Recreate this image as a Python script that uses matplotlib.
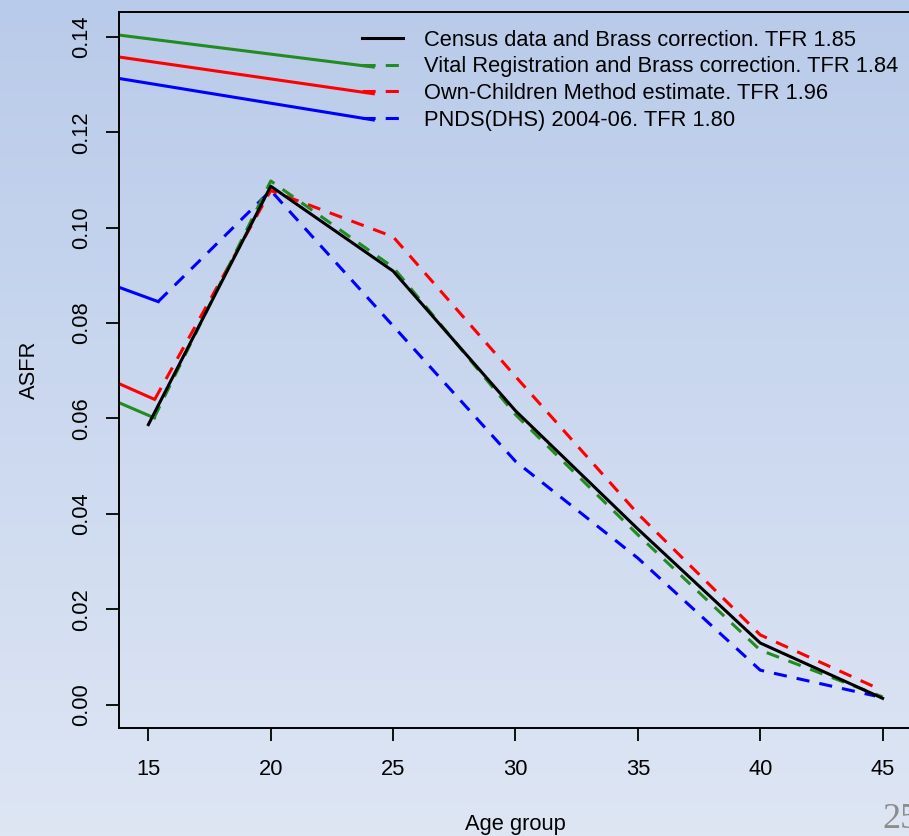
import numpy as np
import matplotlib.pyplot as plt
from matplotlib.lines import Line2D

# Age-specific fertility rates
ages = [15, 20, 25, 30, 35, 40, 45]
asfr_census = [0.0587, 0.1087, 0.0909, 0.0616, 0.0368, 0.0129, 0.0013]

ages_vital = [15.23, 20, 25, 30, 35, 40, 45]
asfr_vital = [0.0601, 0.1098, 0.0917, 0.0608, 0.0356, 0.0114, 0.0016]

ages_own = [15.26, 20, 25, 30, 35, 40, 44.8]
asfr_own = [0.0640, 0.1078, 0.0981, 0.0688, 0.0400, 0.0146, 0.0034]

ages_pnds = [15.4, 20, 25, 30, 35, 40, 44.7]
asfr_pnds = [0.0845, 0.1078, 0.0794, 0.0510, 0.0307, 0.0072, 0.0018]

# stray solid strokes that appear on the original slide
stub_x_low = [13.8, 15.25]
stub_vital_low = [0.0633, 0.0601]
stub_own_low = [0.0673, 0.0640]
stub_pnds_x_low = [13.8, 15.4]
stub_pnds_low = [0.0875, 0.0845]
stub_x_top = [13.8, 24.19]
stub_vital_top = [0.1404, 0.1337]
stub_own_top = [0.1358, 0.1281]
stub_pnds_top = [0.1313, 0.1226]

labels = ['Census data and Brass correction. TFR 1.85',
          'Vital Registration and Brass correction. TFR 1.84',
          'Own-Children Method estimate. TFR 1.96',
          'PNDS(DHS) 2004-06. TFR 1.80']
colors = ['black', '#228B22', '#FF0000', '#0000FF']

plt.rcParams.update({
    'font.family': ['Liberation Sans', 'DejaVu Sans'],
    'font.size': 15.75,
})

fig = plt.figure(figsize=(9.09, 8.36), dpi=100)

# slide background gradient
bg = fig.add_axes([0, 0, 1, 1], zorder=-10)
top = np.array([185, 203, 234]) / 255
bottom = np.array([222, 230, 244]) / 255
t = np.linspace(0, 1, 256)[:, None]
grad = top[None, :] * (1 - t) + bottom[None, :] * t
bg.imshow(grad[:, None, :], aspect='auto', extent=[0, 1, 0, 1])
bg.set_axis_off()

ax = fig.add_axes([119 / 909, 108.3 / 836, 793 / 909, 716 / 836])
ax.set_facecolor('none')

dash = (0, (4.3, 3.3))
lw = 2.2

ax.plot(stub_x_top, stub_vital_top, color=colors[1], lw=lw)
ax.plot(stub_x_top, stub_own_top, color=colors[2], lw=lw)
ax.plot(stub_x_top, stub_pnds_top, color=colors[3], lw=lw)
ax.plot(stub_x_low, stub_vital_low, color=colors[1], lw=lw)
ax.plot(stub_x_low, stub_own_low, color=colors[2], lw=lw)
ax.plot(stub_pnds_x_low, stub_pnds_low, color=colors[3], lw=lw)

ax.plot(ages_pnds, asfr_pnds, color=colors[3], lw=lw, linestyle=dash)
ax.plot(ages_own, asfr_own, color=colors[2], lw=lw, linestyle=dash)
ax.plot(ages_vital, asfr_vital, color=colors[1], lw=lw, linestyle=dash)
ax.plot(ages, asfr_census, color=colors[0], lw=lw)

ax.set_xlim(13.8, 46.2)
ax.set_ylim(-0.00486, 0.1453)
ax.set_xticks(ages)
ax.set_yticks([0.00, 0.02, 0.04, 0.06, 0.08, 0.10, 0.12, 0.14])
ax.set_yticklabels(['0.00', '0.02', '0.04', '0.06', '0.08', '0.10', '0.12', '0.14'],
                   rotation=90, va='center')
ax.tick_params(axis='x', length=9.5, width=1.3, pad=13)
ax.tick_params(axis='y', length=9.5, width=1.3, pad=10)
for s in ax.spines.values():
    s.set_linewidth(1.4)

ax.set_xlabel('Age group')
ax.set_ylabel('ASFR')
ax.xaxis.set_label_coords(0.5, -0.121)
ax.yaxis.set_label_coords(-0.1, 0.5)

handles = [Line2D([], [], color=colors[0], lw=lw)] + \
          [Line2D([], [], color=c, lw=lw, linestyle=dash) for c in colors[1:]]
ax.legend(handles, labels, loc='upper left', bbox_to_anchor=(0.306, 0.975),
          frameon=False, handlelength=1.9, handletextpad=0.97,
          labelspacing=0.26, borderpad=0, borderaxespad=0)

fig.text(882 / 909, 0, '25', color='#8c8c8c', fontsize=26,
         family=['Liberation Serif', 'DejaVu Serif'], ha='left', va='bottom')

fig.savefig('out.png', dpi=100)
